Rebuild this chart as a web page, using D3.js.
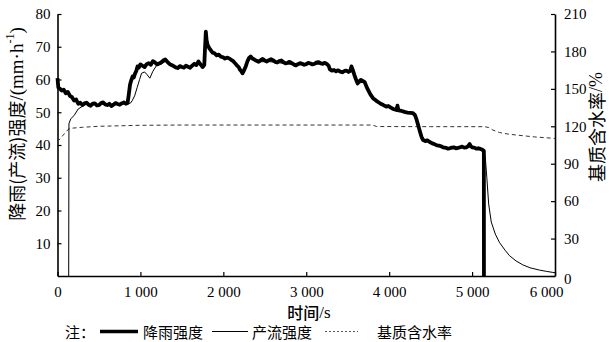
<!DOCTYPE html>
<html>
<head>
<meta charset="utf-8">
<script src="https://cdn.jsdelivr.net/npm/d3@7"></script>
<style>
  html, body { margin: 0; padding: 0; background: #fff; }
  svg { display: block; }
</style>
</head>
<body>
<svg id="chart" width="609" height="342"></svg>
<script>
// Rainfall intensity (mm/h) against time (s)
const rainTime = [0,10,30,50,75,100,125,150,175,200,225,250,275,300,325,350,375,400,425,450,475,500,525,550,575,600,625,650,675,700,725,750,775,800,825,845,860,875,890,905,920,935,950,965,980,1000,1025,1050,1075,1100,1125,1150,1175,1200,1225,1250,1275,1300,1325,1350,1375,1400,1425,1450,1475,1500,1525,1550,1575,1600,1625,1650,1675,1700,1725,1750,1770,1780,1789,1798,1810,1830,1850,1870,1895,1920,1945,1970,1995,2020,2050,2080,2100,2120,2140,2160,2185,2200,2215,2231,2250,2270,2290,2310,2330,2350,2375,2400,2425,2450,2475,2500,2525,2550,2575,2600,2625,2650,2675,2700,2725,2750,2775,2800,2825,2850,2875,2900,2925,2950,2975,3000,3025,3050,3075,3100,3125,3150,3175,3200,3225,3250,3270,3285,3310,3335,3360,3385,3410,3435,3460,3485,3510,3530,3545,3560,3580,3600,3620,3640,3660,3680,3705,3730,3750,3775,3805,3830,3855,3880,3905,3930,3966,3990,4020,4050,4087,4100,4112,4150,4185,4220,4255,4287,4310,4330,4350,4370,4390,4410,4435,4460,4489,4520,4550,4575,4600,4625,4650,4689,4710,4729,4755,4780,4805,4830,4855,4880,4905,4930,4950,4970,4985,5000,5025,5050,5075,5100,5120,5142,5143];
const rainfall = [60.4,57.5,57.2,56.6,56.9,55.8,56.2,55.0,54.6,53.6,53.9,52.6,52.9,52.2,52.7,52.9,52.3,52.0,52.6,52.7,52.1,52.2,52.8,53.0,52.4,52.2,52.6,51.9,52.3,52.8,52.5,52.3,52.7,53.0,52.6,52.8,55.5,58.5,59.8,60.9,60.6,61.8,62.6,64.0,63.6,64.6,64.2,63.8,64.7,65.0,64.5,65.6,65.2,64.6,64.9,65.2,65.8,66.1,65.4,64.8,64.4,64.1,63.7,63.5,64.1,63.8,63.6,64.2,63.9,63.6,64.2,64.8,64.4,65.5,64.6,63.8,64.4,70.0,74.6,72.0,70.6,69.6,68.9,68.2,68.0,67.4,67.6,67.0,66.8,66.4,66.7,66.3,65.9,65.6,65.0,64.4,63.8,63.0,62.6,61.9,62.8,64.0,65.5,66.6,67.0,66.4,66.1,65.7,65.4,65.9,66.3,65.8,65.5,65.9,66.2,65.9,65.4,65.2,65.6,65.8,65.3,64.9,65.1,65.4,65.0,64.6,64.3,64.7,65.0,64.8,64.5,64.7,65.1,64.9,64.6,64.8,65.2,65.3,64.9,64.8,65.1,64.7,64.2,63.1,62.7,62.9,62.5,62.8,62.4,62.2,62.6,62.7,62.3,62.6,64.0,63.0,61.4,60.0,58.8,59.5,59.9,59.6,59.2,57.6,56.6,55.4,54.3,53.8,53.3,52.9,52.5,52.2,51.7,51.9,51.4,51.0,50.7,52.0,50.6,50.4,50.1,49.9,49.8,49.7,49.2,47.8,46.0,44.2,42.5,41.5,41.2,41.4,40.9,40.5,40.2,39.9,39.8,39.6,39.3,39.1,38.9,39.0,39.2,39.3,39.0,39.1,39.3,39.5,39.2,39.3,39.6,40.3,39.6,39.3,39.2,38.9,39.0,38.8,38.6,38.2,0];

// Runoff intensity (mm/h) against time (s)
const runoffTime = [135,138,160,200,250,300,350,400,450,500,550,600,650,700,750,800,850,880,900,930,960,990,1014,1050,1080,1114,1150,1195,1250,1300,1350,1400,1450,1500,1550,1600,1650,1700,1750,1775,1792,1830,1900,2000,2080,2160,2231,2280,2330,2420,2540,2650,2760,2880,3000,3100,3200,3250,3290,3400,3520,3550,3620,3705,3805,3900,3966,4087,4220,4290,4330,4407,4489,4600,4729,4880,4970,5100,5145,5160,5178,5200,5231,5280,5331,5400,5452,5530,5612,5700,5813,5900,5973,6000];
const runoff = [0,46.5,48.0,49.0,51.0,51.8,52.5,52.0,52.4,52.0,52.6,52.1,51.9,52.4,52.3,52.6,52.6,52.8,53.5,55.0,57.5,60.0,61.9,62.3,61.5,60.4,62.5,64.3,64.7,65.5,64.6,64.0,63.4,63.7,64.0,63.6,64.5,65.0,63.8,64.5,73.5,69.2,67.6,66.6,66.3,64.3,62.0,64.5,66.7,65.4,65.5,65.2,64.8,64.4,64.6,64.6,64.8,64.6,62.9,62.7,62.3,63.6,58.9,59.2,54.3,52.7,51.8,50.8,49.9,49.6,48.5,41.8,41.0,39.8,39.0,39.3,39.9,38.8,38.3,36.0,30.0,22.0,16.5,12.8,10.2,7.8,6.2,4.6,3.4,2.5,1.8,1.4,1.1,1.0];

// Substrate water content (%) against time (s)
const moistTime = [0,70,130,160,300,500,1000,1500,2000,3000,3800,3850,4500,5150,5200,5250,5331,5430,5532,5750,5973,6000];
const moisture = [107.6,113.0,117.6,118.4,119.2,120.0,120.8,121.0,121.0,121.0,121.0,119.8,119.7,119.7,119.0,117.0,115.0,113.8,113.0,111.5,110.4,110.3];

// Axis ticks
const xTicks = [0,1000,2000,3000,4000,5000,6000];
const leftTicks = [10,20,30,40,50,60,70,80];
const rightTicks = [0,30,60,90,120,150,180,210];

// Legend entries
const legendItems = ["降雨强度", "产流强度", "基质含水率"];

const SERIF = "'Liberation Serif', 'Times New Roman', serif";
const CJK = "'Noto Sans CJK SC', sans-serif";

const svg = d3.select("#chart");

const x = d3.scaleLinear().domain([0, 6000]).range([57.5, 555]);
const yL = d3.scaleLinear().domain([0, 80]).range([276, 14]);
const yR = d3.scaleLinear().domain([0, 210]).range([276, 14]);

const zip = (ts, vs) => ts.map((t, i) => [t, vs[i]]);

// Axes with inward ticks
const xAxis = d3.axisBottom(x).tickValues(xTicks).tickSizeInner(-4).tickSizeOuter(0).tickPadding(10)
  .tickFormat(d => d === 0 ? "0" : d3.format(",")(d).replace(",", " "));
const lAxis = d3.axisLeft(yL).tickValues(leftTicks).tickSizeInner(-4).tickSizeOuter(0).tickPadding(7);
const rAxis = d3.axisRight(yR).tickValues(rightTicks).tickSizeInner(-4).tickSizeOuter(0).tickPadding(9);

function styleAxis(g) {
  g.select(".domain").attr("stroke", "#000").attr("stroke-width", 1.6);
  g.selectAll(".tick line").attr("stroke", "#000").attr("stroke-width", 1.2);
  g.selectAll(".tick text").style("font-family", SERIF).style("font-size", "15px").attr("fill", "#000");
}

const xg = svg.append("g").attr("transform", "translate(0,276)").call(xAxis).call(styleAxis);
xg.selectAll(".tick").filter(d => d === 6000).select("text").attr("dx", -9);
svg.append("g").attr("transform", "translate(57.5,0)").call(lAxis).call(styleAxis);
const rg = svg.append("g").attr("transform", "translate(555,0)").call(rAxis).call(styleAxis);
rg.selectAll(".tick").filter(d => d === 0).select("text").attr("dy", "0.5em");

// Series
const lineL = d3.line().x(d => x(d[0])).y(d => yL(d[1]));
const lineR = d3.line().x(d => x(d[0])).y(d => yR(d[1]));

svg.append("path").datum(zip(moistTime, moisture))
  .attr("d", lineR).attr("fill", "none").attr("stroke", "#333").attr("stroke-width", 1)
  .attr("stroke-dasharray", "4,3");

svg.append("path").datum(zip(runoffTime, runoff))
  .attr("d", lineL).attr("fill", "none").attr("stroke", "#000").attr("stroke-width", 1);

svg.append("path").datum(zip(rainTime, rainfall))
  .attr("d", lineL).attr("fill", "none").attr("stroke", "#000").attr("stroke-width", 3.8)
  .attr("stroke-linejoin", "round");

// Axis titles
const xt = svg.append("text")
  .attr("x", 309).attr("y", 312).attr("text-anchor", "middle").attr("dominant-baseline", "central")
  .style("font-family", CJK).style("font-size", "16px").style("font-weight", 500);
xt.append("tspan").text("时间");
xt.append("tspan").style("font-family", SERIF).style("font-size", "17px").text("/s");

const lt = svg.append("text")
  .attr("transform", "translate(16,124) rotate(-90)")
  .attr("text-anchor", "middle").attr("dominant-baseline", "central")
  .style("font-family", CJK).style("font-size", "18px");
lt.append("tspan").text("降雨(产流)强度");
lt.append("tspan").style("font-family", SERIF).style("font-size", "19px").text("/(mm·h");
lt.append("tspan").attr("dy", -6).style("font-family", SERIF).style("font-size", "12px").text("-1");
lt.append("tspan").attr("dy", 6).style("font-family", SERIF).style("font-size", "19px").text(")");

const rt = svg.append("text")
  .attr("transform", "translate(596,127) rotate(-90)")
  .attr("text-anchor", "middle").attr("dominant-baseline", "central")
  .style("font-family", CJK).style("font-size", "18px");
rt.append("tspan").text("基质含水率");
rt.append("tspan").style("font-family", SERIF).text("/%");

// Legend
const ly = 331.5;
const leg = svg.append("g").attr("class", "legend");
leg.append("text").attr("x", 65).attr("y", ly)
  .attr("dominant-baseline", "central").style("font-family", CJK).style("font-size", "15px").text("注：");
const swatches = [
  { x1: 100, x2: 138, w: 3.4, dash: null, color: "#000", tx: 143 },
  { x1: 212, x2: 248, w: 1, dash: null, color: "#000", tx: 252 },
  { x1: 325, x2: 358, w: 1, dash: "2,2", color: "#555", tx: 377 }
];
swatches.forEach((s, i) => {
  leg.append("line").attr("x1", s.x1).attr("x2", s.x2).attr("y1", ly).attr("y2", ly)
    .attr("stroke", s.color).attr("stroke-width", s.w).attr("stroke-dasharray", s.dash);
  leg.append("text").attr("x", s.tx).attr("y", ly)
    .attr("dominant-baseline", "central").style("font-family", CJK).style("font-size", "15px").text(legendItems[i]);
});
</script>
</body>
</html>
